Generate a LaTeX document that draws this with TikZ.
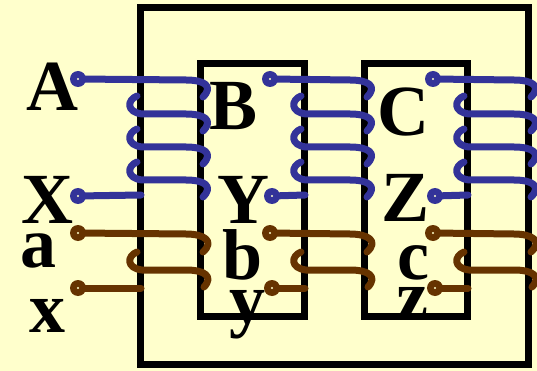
\documentclass[tikz,border=0pt]{standalone}
\usepackage{fontspec}
\setmainfont{Liberation Serif}
\definecolor{paper}{HTML}{FFFFCC}
\definecolor{hvwire}{HTML}{333399}
\definecolor{lvwire}{HTML}{663300}
\begin{document}
\begin{tikzpicture}[x=1pt,y=-1pt,
  core/.style={draw=black, line width=7pt},
  wire/.style={line width=7pt, line cap=round, line join=round},
  hv/.style={wire, draw=hvwire},
  lv/.style={wire, draw=lvwire},
  term/.style={circle, inner sep=0pt, minimum size=16pt, fill=#1},
  lbl/.style={anchor=base, inner sep=0pt, font=\fontsize{72}{72}\selectfont\bfseries}]
\fill[paper] (0,0) rectangle (537,371);
\useasboundingbox (0,0) rectangle (537,371);
% three-limb core
\draw[core] (140,8) rectangle (528,364);
\draw[core] (200,64) rectangle (304,316);
\draw[core] (364,64) rectangle (467,316);
% windings: L/R = limb edges, Dt/Db = terminal x positions
\foreach \L/\R/\Dt/\Db/\p in {140/200/78/78/1, 304/364/270/272/2, 467/528/433/435/3} {
  \coordinate (hvin\p) at (\Dt,79);
  \coordinate (hvout\p) at (\Db,196);
  \coordinate (lvin\p) at (\Dt,233);
  \coordinate (lvout\p) at (\Db,288);
  % high-voltage winding
  \draw[hv] (hvin\p) -- (\R-14,80) .. controls (\R+4,80) and (\R+14,86) .. (\R+3,97);
  \foreach \y in {114,147,180}{
    \draw[hv] (\L-3,\y-18) .. controls (\L-13,\y-14) and (\L-14,\y-2) .. (\L+2,\y)
      -- (\R-14,\y) .. controls (\R+4,\y) and (\R+14,\y+6) .. (\R+3,\y+17);
  }
  \draw[hv] (hvout\p) -- (\L+1,195);
  % low-voltage winding
  \draw[lv] (lvin\p) -- (\R-14,234) .. controls (\R+4,234) and (\R+15,241) .. (\R+3,252);
  \draw[lv] (\L-3,252) .. controls (\L-13,256) and (\L-14,268) .. (\L+2,270)
    -- (\R-14,270) .. controls (\R+4,270) and (\R+14,276) .. (\R+4,287);
  \draw[lv] (lvout\p) -- (\L+1,288);
  % terminals
  \foreach \c/\w in {hvin/hvwire, hvout/hvwire, lvin/lvwire, lvout/lvwire}{
    \node[term=\w] (t\c\p) at (\c\p) {};
    \fill[paper] (t\c\p.center) circle (1.2);
  }
}
% terminal labels
\node[lbl] (lA) at (52,111) {A};
\node[lbl] (lX) at (47,223) {X};
\node[lbl] (la) at (38,267) {a};
\node[lbl] (lx) at (47.5,332) {x};
\node[lbl] (lB) at (234,130) {B};
\node[lbl] (lY) at (243,223) {Y};
\node[lbl] (lb) at (242.5,279) {b};
\node[lbl] (ly) at (247.5,323) {y};
\node[lbl] (lC) at (403.5,136) {C};
\node[lbl] (lZ) at (406,222) {Z};
\node[lbl] (lc) at (413,279) {c};
\node[lbl] (lz) at (412.5,320) {z};
\end{tikzpicture}
\end{document}
